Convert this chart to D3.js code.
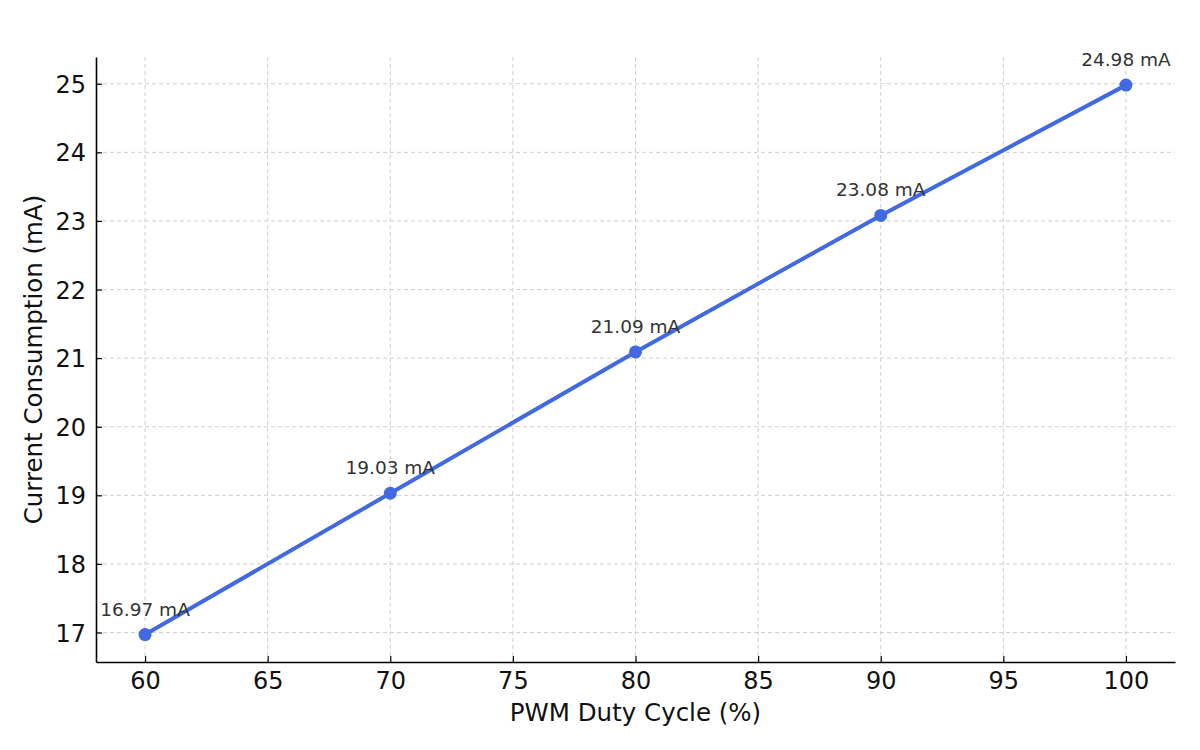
<!DOCTYPE html>
<html>
<head>
<meta charset="utf-8">
<script src="https://cdn.jsdelivr.net/npm/d3@7"></script>
<style>
  body { margin: 0; background: #fff; }
  text { font-family: "DejaVu Sans", sans-serif; }
</style>
</head>
<body>
<svg id="chart"></svg>
<script>
const width = 1200
const height = 750

// data
const dutyCycle = [60, 70, 80, 90, 100]
const current = [16.97, 19.03, 21.09, 23.08, 24.98]
const xTicks = [60, 65, 70, 75, 80, 85, 90, 95, 100]
const yTicks = [17, 18, 19, 20, 21, 22, 23, 24, 25]

const points = dutyCycle.map((d, i) => ({ x: d, y: current[i] }))

const margin = { top: 57, right: 25, bottom: 88, left: 96 }

const svg = d3.select('#chart').attr('width', width).attr('height', height)

const x = d3.scaleLinear().domain([58, 102]).range([margin.left, width - margin.right])
const y = d3.scaleLinear().domain([16.57, 25.39]).range([height - margin.bottom, margin.top])

// grid
const grid = svg.append('g').attr('class', 'grid')
grid.selectAll('.vx')
  .data(xTicks)
  .join('line')
  .attr('x1', d => x(d)).attr('x2', d => x(d))
  .attr('y1', margin.top).attr('y2', height - margin.bottom)
  .attr('stroke', '#cfcfcf').attr('stroke-width', 1)
  .attr('stroke-dasharray', '4,3')
grid.selectAll('.hy')
  .data(yTicks)
  .join('line')
  .attr('y1', d => y(d)).attr('y2', d => y(d))
  .attr('x1', margin.left).attr('x2', width - margin.right)
  .attr('stroke', '#cfcfcf').attr('stroke-width', 1)
  .attr('stroke-dasharray', '4,3')

// axes
const xAxis = svg.append('g')
  .attr('transform', `translate(0,${height - margin.bottom})`)
  .call(d3.axisBottom(x).tickValues(xTicks).tickSizeInner(-6).tickSizeOuter(0).tickPadding(10))
const yAxis = svg.append('g')
  .attr('transform', `translate(${margin.left},0)`)
  .call(d3.axisLeft(y).tickValues(yTicks).tickSizeInner(-6).tickSizeOuter(0).tickPadding(10))

;[xAxis, yAxis].forEach(a => {
  a.attr('font-size', null).attr('font-family', null)
  a.select('.domain').attr('stroke', '#000').attr('stroke-width', 1.6)
  a.selectAll('.tick line').attr('stroke', '#000').attr('stroke-width', 1.2)
  a.selectAll('.tick text')
    .attr('fill', '#111')
    .style('font-family', '"DejaVu Sans", sans-serif')
    .style('font-size', '24px')
})
yAxis.selectAll('.tick text').attr('dy', '0.36em')

// axis labels
svg.append('text')
  .attr('x', (margin.left + width - margin.right) / 2)
  .attr('y', 721)
  .attr('text-anchor', 'middle')
  .attr('fill', '#111')
  .style('font-size', '24.5px')
  .text('PWM Duty Cycle (%)')
svg.append('text')
  .attr('transform', `translate(42,${(margin.top + height - margin.bottom) / 2}) rotate(-90)`)
  .attr('text-anchor', 'middle')
  .attr('fill', '#111')
  .style('font-size', '24.5px')
  .text('Current Consumption (mA)')

// line
const line = d3.line().x(d => x(d.x)).y(d => y(d.y))
svg.append('path')
  .datum(points)
  .attr('d', line)
  .attr('fill', 'none')
  .attr('stroke', '#4169e1')
  .attr('stroke-width', 4)

svg.append('g')
  .selectAll('circle')
  .data(points)
  .join('circle')
  .attr('cx', d => x(d.x))
  .attr('cy', d => y(d.y))
  .attr('r', 6.5)
  .attr('fill', '#4169e1')

// value labels
svg.append('g')
  .selectAll('text')
  .data(points)
  .join('text')
  .attr('x', d => x(d.x))
  .attr('y', d => y(d.y) - 19)
  .attr('text-anchor', 'middle')
  .attr('fill', '#333')
  .style('font-size', '18.5px')
  .text(d => d.y.toFixed(2) + ' mA')
</script>
</body>
</html>
